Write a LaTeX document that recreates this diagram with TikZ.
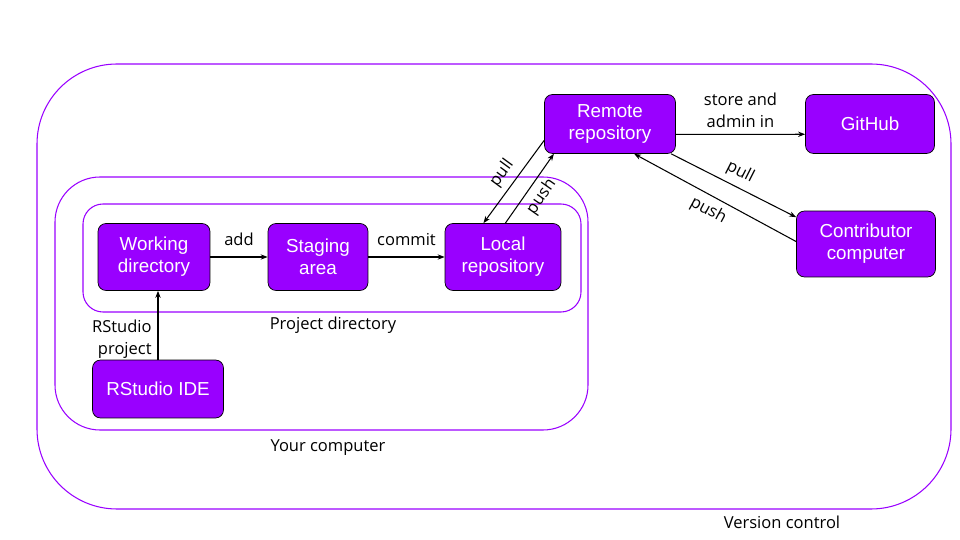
\documentclass[tikz,border=0pt]{standalone}
\usepackage{fontspec}
\setmainfont{Open Sans}
\newfontfamily\boxfont{Liberation Sans}
\usetikzlibrary{arrows.meta}
\definecolor{gitpurple}{HTML}{9900FF}
\newcommand{\boxrad}{0.16cm}
\newcommand{\labelsize}{\fontsize{9.4}{12.5}\selectfont}

\begin{document}
\begin{tikzpicture}[x=0.02cm,y=-0.02cm]
                \useasboundingbox (0,0) rectangle (960,540);

                % containers
                \begin{scope}[draw=gitpurple,line width=0.6pt]
                    \draw[rounded corners=1.6cm] (37,64) rectangle (951,509);
                    \draw[rounded corners=0.9cm] (55,177) rectangle (588,430);
                    \draw[rounded corners=0.4cm] (83,204) rectangle (581,312);
                \end{scope}
                \begin{scope}[every node/.style={font=\labelsize}]
                    \node (vclabel) at (782,522) {Version control};
                    \node (pclabel) at (328,448) {Your computer};
                    \node (pdlabel) at (333,325) {Project directory};
                \end{scope}

                \begin{scope}[every node/.style={rectangle,rounded corners=\boxrad,draw=black,fill=gitpurple,
                    text=white,align=center,inner sep=0pt,font=\boxfont\fontsize{10.7}{12.5}\selectfont}]
                    \node[minimum width=2.24cm,minimum height=1.34cm] (W) at (154,257) {Working\\directory};
                    \node[minimum width=2.0cm,minimum height=1.34cm] (S) at (318,257) {Staging\\area};
                    \node[minimum width=2.32cm,minimum height=1.34cm] (L) at (503,257) {Local\\repository};
                    \node[minimum width=2.62cm,minimum height=1.16cm] (I) at (158,389) {RStudio IDE};
                    \node[minimum width=2.62cm,minimum height=1.18cm] (R) at (610,124) {Remote\\repository};
                    \node[minimum width=2.58cm,minimum height=1.18cm] (G) at (870,124) {GitHub};
                    \node[minimum width=2.78cm,minimum height=1.32cm] (C) at (866,244) {Contributor\\computer};
                \end{scope}

                \begin{scope}[>={Stealth[black,length=4pt,width=3pt]},
                    every edge/.style={draw=black,line width=0.6pt},
                    every node/.style={font=\labelsize}]
                    \path [->] (W) edge node[above=3pt] {add} (S);
                    \path [->] (S) edge node[above=3pt] {commit} (L);
                    \path [->] (I.north) edge node[left,align=right,pos=0.3] {RStudio\\project} (I.north |- W.south);
                    \path [->] (R.194) edge node[sloped,above] {pull} (L.120);
                    \path [->] (L.86) edge node[sloped,below] {push} (R.208);
                    \path [->] (R.-9) edge node[above,align=center] {store and\\admin in} (G.189);
                    \path [->] (R.-26) edge node[sloped,above] {pull} (C.159);
                    \path [->] (C.178) edge node[sloped,below] {push} (R.-51);
                \end{scope}
            \end{tikzpicture}
\end{document}
